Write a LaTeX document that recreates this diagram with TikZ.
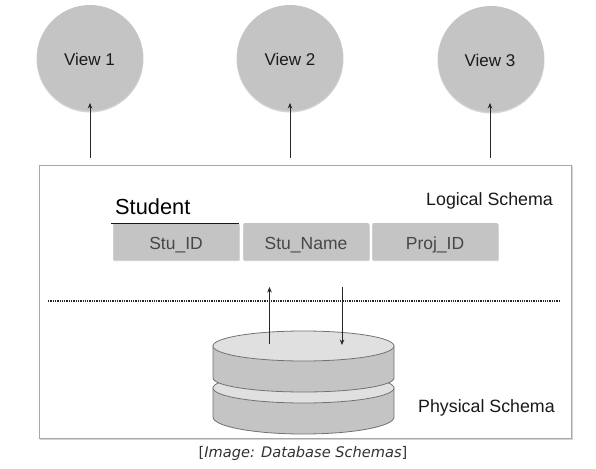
\documentclass[tikz,border=0pt]{standalone}
\usepackage{fontspec}
\setmainfont{Liberation Sans}
\newfontfamily\capfont{DejaVu Sans}
\usetikzlibrary{arrows.meta,shapes.geometric}
\definecolor{fillgray}{HTML}{C4C4C4}
\definecolor{lightdisc}{HTML}{E0E0E0}
\definecolor{framegray}{HTML}{A8A8A8}
\definecolor{shadowgray}{HTML}{D4D4D4}
\definecolor{txt}{HTML}{1A1A1A}
\tikzset{
  x=1pt,y=-1pt,
  viewnode/.style={circle,fill=fillgray,minimum size=106pt,inner sep=0pt},
  viewshadow/.style={circle,fill=shadowgray,minimum size=107pt,inner sep=0pt},
  viewlabel/.style={anchor=base,inner sep=0pt,font=\fontsize{17}{19}\selectfont,text=txt},
  fieldbox/.style={fill=fillgray,minimum width=125.5pt,minimum height=37pt,inner sep=0pt,rounded corners=1pt},
  fieldlabel/.style={anchor=base,inner sep=0pt,font=\fontsize{17.5}{19}\selectfont,text=black!72},
  fieldshadow/.style={fill=shadowgray,minimum width=126.5pt,minimum height=37pt,inner sep=0pt,rounded corners=1pt},
  conn/.style={draw=black!85,line width=0.8pt,-{Stealth[length=5.5pt,width=4.5pt]}},
  schemalabel/.style={anchor=base west,inner sep=0pt,font=\fontsize{17.8}{20}\selectfont,text=txt},
  disc/.style={draw=black!55,line width=0.8pt,fill=fillgray},
}
\begin{document}
\begin{tikzpicture}
\useasboundingbox (0,0) rectangle (596,468);
\fill[white] (0,0) rectangle (596,468);
% views
\node[viewshadow] at (90,59) {};
\node[viewshadow] at (290,59) {};
\node[viewshadow] at (491,60) {};
\node[viewnode] (v1) at (90,58) {};
\node[viewnode] (v2) at (290,58) {};
\node[viewnode] (v3) at (491,59) {};
\node[viewlabel] (v1t) at (89.5,66) {View 1};
\node[viewlabel] (v2t) at (290,66) {View 2};
\node[viewlabel] (v3t) at (490,67) {View 3};
% frame
\draw[draw=shadowgray,line width=1.2pt] (40.5,167) rectangle (572,439.5);
\node[draw=framegray,line width=1pt,fill=white,minimum width=532pt,minimum height=273pt,inner sep=0pt] (frame) at (305,301.5) {};
% connectors to views
\coordinate (a1) at (90,158);
\coordinate (a2) at (290,158);
\coordinate (a3) at (490,158);
\coordinate (t1) at (90,103);
\coordinate (t2) at (290,103);
\coordinate (t3) at (490,103);
\draw[conn] (a1) -- (t1);
\draw[conn] (a2) -- (t2);
\draw[conn] (a3) -- (t3);
% labels
\node[schemalabel,font=\fontsize{21.8}{24}\selectfont,text=black] (student) at (115,214) {Student};
\node[schemalabel] (logical) at (426,205) {Logical Schema};
\node[schemalabel] (physical) at (418,412) {Physical Schema};
% fields
\node[fieldshadow] at (176.5,242.5) {};
\node[fieldshadow] at (306.5,242.5) {};
\node[fieldshadow] at (435.5,242.5) {};
\node[fieldbox] (f1) at (176,241.5) {};
\node[fieldbox] (f2) at (306,241.5) {};
\node[fieldbox] (f3) at (435,241.5) {};
\node[fieldlabel] (f1t) at (176,249) {Stu\_ID};
\node[fieldlabel] (f2t) at (306,249) {Stu\_Name};
\node[fieldlabel] (f3t) at (435,249) {Proj\_ID};
\coordinate (ul1) at (111,223.5);
\coordinate (ul2) at (238.5,223.5);
\draw[line width=1.3pt,black!90] (ul1) -- (ul2);
% dotted separator
\coordinate (d1) at (48,301);
\coordinate (d2) at (559,301);
\draw[line width=1.6pt,black!85,dash pattern=on 1.3pt off 1pt] (d1) -- (d2);
% discs: lower
\draw[disc] (213,388) -- (213,417) .. controls (213,426.4) and (253.5,434) .. (303.5,434) .. controls (353.5,434) and (394,426.4) .. (394,417) -- (394,388) -- cycle;
\node[ellipse,draw=black!55,line width=0.8pt,fill=lightdisc,minimum width=181pt,minimum height=30pt,inner sep=0pt] (disc2) at (303.5,388) {};
% discs: upper
\draw[disc] (213,346) -- (213,378) .. controls (213,385.7) and (253.5,392) .. (303.5,392) .. controls (353.5,392) and (394,385.7) .. (394,378) -- (394,346) -- cycle;
\node[ellipse,draw=black!55,line width=0.8pt,fill=lightdisc,minimum width=181pt,minimum height=30pt,inner sep=0pt] (disc) at (303.5,346) {};
% connectors physical/logical
\coordinate (up0) at (269.5,344);
\coordinate (up1) at (269.5,287);
\coordinate (dn0) at (342,287);
\coordinate (dn1) at (342,345);
\draw[conn] (up0) -- (up1);
\draw[conn] (dn0) -- (dn1);
% caption
\node[font=\capfont\fontsize{14.6}{17}\selectfont,text=black!80,anchor=base,inner sep=0pt] (cap) at (303,457) {[{\itshape Image: Database Schemas}]};
\end{tikzpicture}
\end{document}
